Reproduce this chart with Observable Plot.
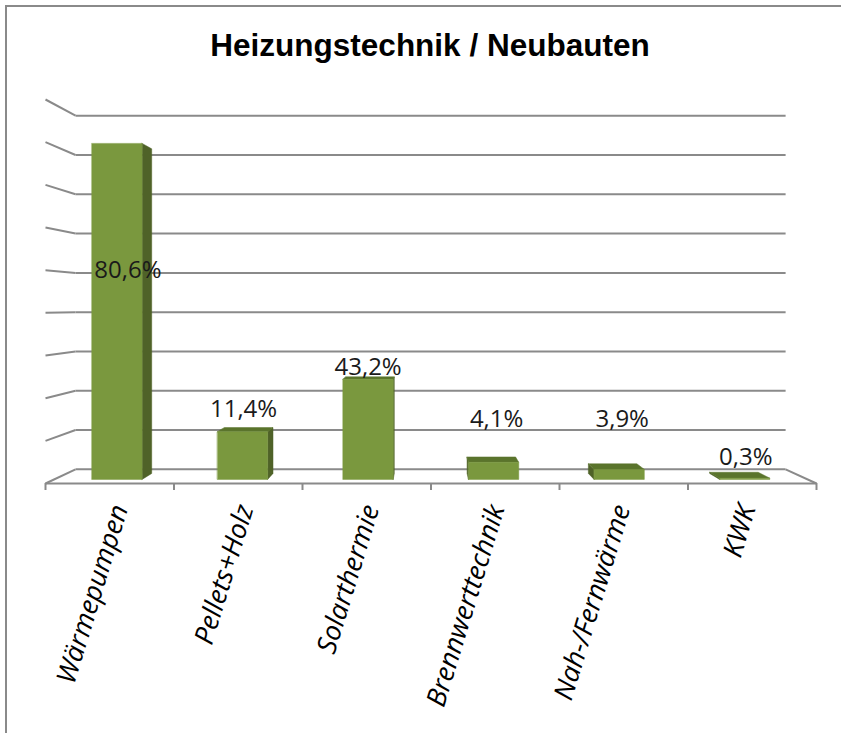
<!DOCTYPE html>
<html><head><meta charset="utf-8">
<script src="https://cdn.jsdelivr.net/npm/d3@7"></script>
<script src="https://cdn.jsdelivr.net/npm/@observablehq/plot@0.6"></script>
<style>
body{margin:0;background:#fff;}
#wrap{position:relative;width:841px;height:733px;overflow:hidden;background:#fff;}
#border{position:absolute;left:5px;top:5px;width:900px;height:800px;border-left:2px solid #8a8a8a;border-top:2px solid #8a8a8a;}
#title{position:absolute;left:0;width:860px;top:27px;text-align:center;font:bold 31.5px "Liberation Sans",Arial,sans-serif;color:#000;}
#chart{position:absolute;left:0;top:80px;}
</style></head>
<body><div id="wrap"><div id="border"></div><div id="title">Heizungstechnik / Neubauten</div><div id="chart"></div></div>
<script>
// ---- data ----
const categories = ["Wärmepumpen", "Pellets+Holz", "Solarthermie", "Brennwerttechnik", "Nah-/Fernwärme", "KWK"];
const barValues = [80.6, 11.4, 24.0, 4.1, 2.4, 0.3];          // drawn bar heights (%)
const labelTexts = ["80,6%", "11,4%", "43,2%", "4,1%", "3,9%", "0,3%"]; // data labels as printed
const gridValues = [0, 10, 20, 30, 40, 50, 60, 70, 80, 90];

// ---- 3D projection helpers (data space of the front plane) ----
const W = 841, H = 653;
const VX = 2.957, VY = 41.95, SHRINK = 0.079;   // vanishing centre + depth shrink
function P(x, y, d) { const s = 1 - SHRINK * d; return {x: VX + s * (x - VX), y: VY + s * (y - VY)}; }
const D0 = 0.29, D1 = 0.71, BW = 0.2;

const sideFaces = [], topFaces = [], frontFaces = [];
categories.forEach((c, i) => {
  const v = barValues[i], xa = i + 0.5 - BW, xb = i + 0.5 + BW;
  const push = (arr, pts) => pts.forEach(p => arr.push({id: c, x: p.x, y: p.y}));
  push(frontFaces, [P(xa, 0, D0), P(xb, 0, D0), P(xb, v, D0), P(xa, v, D0)]);
  const xs = (i + 0.5) < VX ? xb : xa;
  push(sideFaces, [P(xs, 0, D0), P(xs, 0, D1), P(xs, v, D1), P(xs, v, D0)]);
  if (v < VY) push(topFaces, [P(xa, v, D0), P(xb, v, D0), P(xb, v, D1), P(xa, v, D1)]);
});

const gridLinks = [];
gridValues.forEach(g => {
  const a = P(0, g, 1), b = P(6, g, 1), f = P(0, g, 0);
  gridLinks.push({x1: a.x, y1: a.y, x2: b.x, y2: b.y});
  gridLinks.push({x1: f.x, y1: f.y, x2: a.x, y2: a.y});
});
const f0 = P(0, 0, 0), f1 = P(6, 0, 0), b1 = P(6, 0, 1);
gridLinks.push({x1: f0.x, y1: f0.y, x2: f1.x, y2: f1.y});
gridLinks.push({x1: f1.x, y1: f1.y, x2: b1.x, y2: b1.y});

// label nudges (px)
const labelDx = [11, 1, 0, 3, 3, 1];
const labelDy = [127, -23, -12, -43, -50, -21];

const FONT = "'Open Sans', 'Noto Sans', sans-serif";
const labelMarks = categories.map((c, i) => Plot.text([c], {
  x: () => P(i + 0.5, 0, D0).x,
  y: () => P(i + 0.5, barValues[i], D0).y,
  text: () => labelTexts[i],
  dx: labelDx[i], dy: labelDy[i],
  fontSize: 24, fontFamily: FONT, fill: "#1a1a1a"
}));

const chart = Plot.plot({
  width: W, height: H,
  marginLeft: 45, marginRight: 25, marginTop: 19, marginBottom: 250,
  x: {type: "linear", domain: [0, 6]},
  y: {type: "linear", domain: [0, 90], axis: null},
  style: {background: "transparent", overflow: "visible"},
  marks: [
    Plot.link(gridLinks, {x1: "x1", y1: "y1", x2: "x2", y2: "y2", stroke: "#8a8a8a", strokeWidth: 2}),
    Plot.axisX(d3.range(7), {tickSize: 7, tickFormat: () => "", label: null, stroke: "#8a8a8a", strokeWidth: 2}),
    Plot.line(sideFaces, {x: "x", y: "y", z: "id", fill: "#4f6228", stroke: "#4f6228", strokeWidth: 0.5, curve: "linear-closed"}),
    Plot.line(topFaces, {x: "x", y: "y", z: "id", fill: "#5a742c", stroke: "#5a742c", strokeWidth: 0.5, curve: "linear-closed"}),
    Plot.line(frontFaces, {x: "x", y: "y", z: "id", fill: "#7a983e", stroke: "#7a983e", strokeWidth: 0.5, curve: "linear-closed"}),
    ...labelMarks,
    Plot.text(categories, {
      x: (d, i) => P(i + 0.5, 0, D0).x, y: 0, text: d => d,
      rotate: -73, textAnchor: "end", dx: 3, dy: 22,
      fontSize: 27, fontStyle: "italic", fontFamily: FONT, fill: "#000"
    })
  ]
});
document.getElementById("chart").appendChild(chart);
</script>
</body></html>
